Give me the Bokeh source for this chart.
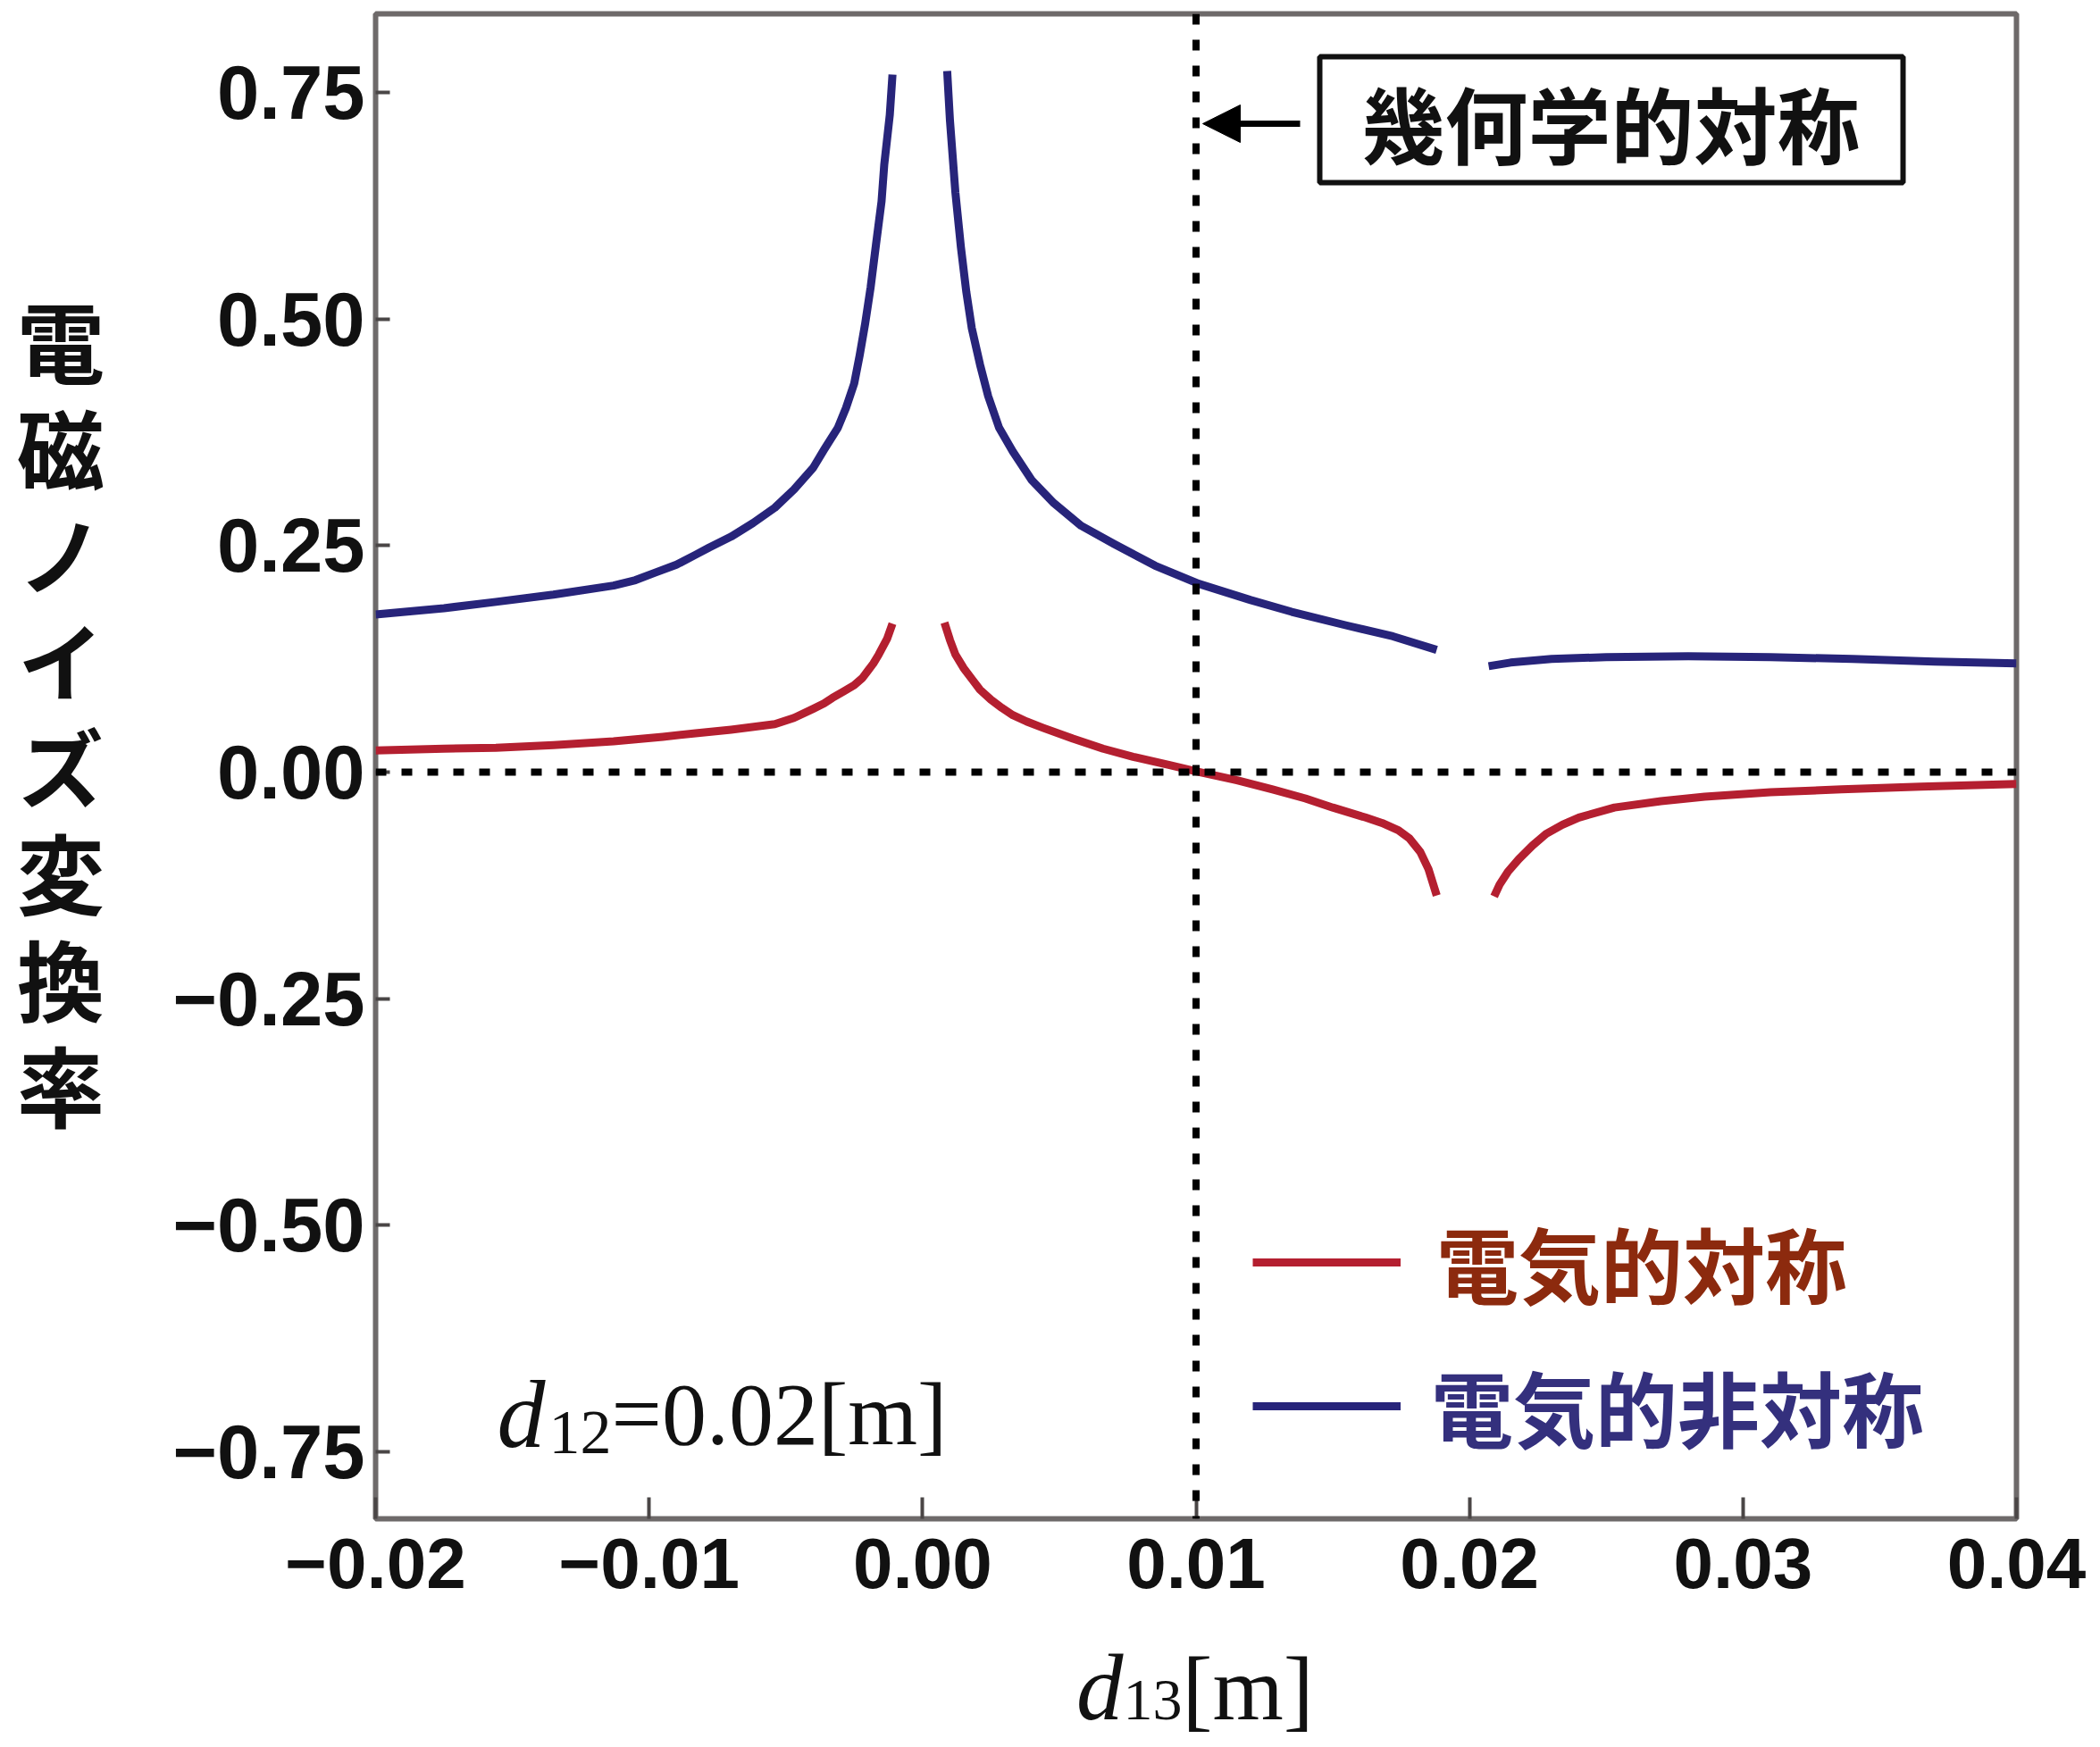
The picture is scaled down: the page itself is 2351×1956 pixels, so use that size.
from bokeh.plotting import figure
from bokeh.models import (Range1d, FixedTicker, Span, Label, Arrow, NormalHead,
                          BoxAnnotation, ColumnDataSource, Legend, LegendItem, Div)
from bokeh.layouts import row, column
from bokeh.embed import file_html
from bokeh.resources import INLINE

NAN = float("nan")

# ---------------- data ----------------
# 電気的非対称 (blue), three branches
asym_x1 = [-0.0200, -0.0175, -0.0156, -0.0135, -0.0113, -0.0105, -0.0098, -0.0090, -0.0083,
           -0.0078, -0.0070, -0.0062, -0.0054, -0.0047, -0.0040, -0.0036, -0.0031, -0.0028,
           -0.0025, -0.0023, -0.0021, -0.0019, -0.0017, -0.0015, -0.0014, -0.0012, -0.0011]
asym_y1 = [0.174, 0.181, 0.188, 0.196, 0.206, 0.212, 0.220, 0.229, 0.240,
           0.248, 0.260, 0.275, 0.292, 0.312, 0.336, 0.356, 0.380, 0.402,
           0.429, 0.460, 0.495, 0.535, 0.583, 0.630, 0.671, 0.725, 0.770]
asym_x2 = [0.0009, 0.0010, 0.0012, 0.0014, 0.0016, 0.0018, 0.0021, 0.0024, 0.0028, 0.0033,
           0.0040, 0.0048, 0.0058, 0.0070, 0.0085, 0.0101, 0.0120, 0.0135, 0.0155, 0.0172,
           0.0188]
asym_y2 = [0.774, 0.720, 0.640, 0.580, 0.530, 0.490, 0.450, 0.415, 0.380, 0.354,
           0.322, 0.297, 0.272, 0.252, 0.228, 0.208, 0.190, 0.177, 0.162, 0.150,
           0.135]
asym_x3 = [0.0207, 0.0215, 0.0230, 0.0250, 0.0280, 0.0310, 0.0340, 0.0370, 0.0400]
asym_y3 = [0.117, 0.121, 0.125, 0.127, 0.128, 0.127, 0.125, 0.122, 0.120]

# 電気的対称 (red), three branches
sym_x1 = [-0.0200, -0.0175, -0.0156, -0.0135, -0.0113, -0.0095, -0.0083, -0.0070,
          -0.0054, -0.0047, -0.0040, -0.0036, -0.0033, -0.0029, -0.0025, -0.0022, -0.0020,
          -0.0018, -0.0016, -0.0013, -0.0011]
sym_y1 = [0.024, 0.026, 0.027, 0.030, 0.034, 0.039, 0.043, 0.047,
          0.053, 0.060, 0.070, 0.076, 0.082, 0.089, 0.096, 0.104, 0.112,
          0.120, 0.130, 0.147, 0.164]
sym_x2 = [0.0008, 0.0010, 0.0012, 0.0015, 0.0018, 0.0021, 0.0025, 0.0029, 0.0033, 0.0038,
          0.0044, 0.0055, 0.0066, 0.0077, 0.0090, 0.0100, 0.0115, 0.0128, 0.0140, 0.0150,
          0.0162, 0.0168, 0.0174, 0.0178, 0.0182, 0.0185, 0.0188]
sym_y2 = [0.165, 0.146, 0.130, 0.115, 0.103, 0.091, 0.080, 0.071, 0.063, 0.056,
          0.049, 0.037, 0.026, 0.017, 0.008, 0.001, -0.009, -0.019, -0.029, -0.039,
          -0.050, -0.056, -0.064, -0.073, -0.088, -0.107, -0.136]
sym_x3 = [0.0209, 0.0211, 0.0214, 0.0218, 0.0223, 0.0228, 0.0234, 0.0240, 0.0253, 0.0270,
          0.0286, 0.0310, 0.0336, 0.0365, 0.0400]
sym_y3 = [-0.137, -0.124, -0.110, -0.096, -0.081, -0.068, -0.058, -0.050, -0.039, -0.032,
          -0.027, -0.022, -0.019, -0.016, -0.013]

x_ticks = [-0.02, -0.01, 0.00, 0.01, 0.02, 0.03, 0.04]
x_tick_labels = ["−0.02", "−0.01", "0.00", "0.01", "0.02", "0.03", "0.04"]
y_ticks = [-0.75, -0.50, -0.25, 0.00, 0.25, 0.50, 0.75]
y_tick_labels = ["−0.75", "−0.50", "−0.25", "0.00", "0.25", "0.50", "0.75"]

sym_label = "電気的対称"
asym_label = "電気的非対称"
geo_label = "幾何学的対称"
y_label = "電磁ノイズ変換率"
d12_parts = ["d", "12", "=0.02[m]"]
d13_parts = ["d", "13", "[m]"]

sym_line_x = 0.01   # geometric symmetry position
zero_line_y = 0.0

X_MIN, X_MAX = -0.02, 0.04
Y_MIN, Y_MAX = -0.824, 0.837


def join(*branches):
    xs, ys = [], []
    for i, (bx, by) in enumerate(branches):
        if i:
            xs.append(NAN)
            ys.append(NAN)
        xs += list(bx)
        ys += list(by)
    return xs, ys


# ---------------- layout (page pixel helpers for annotations) ----------------
FL, FR, FT, FB = 420, 2257, 15, 1700   # frame on page
YDIV_W = 130
TOTAL_W = 2343
FIG_H = 1830
XDIV_H = 118


def dx(px):
    return X_MIN + (px - FL) * (X_MAX - X_MIN) / (FR - FL)


def dy(py):
    return Y_MAX - (py - FT) * (Y_MAX - Y_MIN) / (FB - FT)


FIG_W = TOTAL_W - YDIV_W
p = figure(width=FIG_W, height=FIG_H, output_backend="svg", toolbar_location=None,
           x_range=Range1d(X_MIN, X_MAX), y_range=Range1d(Y_MIN, Y_MAX),
           min_border_left=FL - YDIV_W, min_border_right=TOTAL_W - FR,
           min_border_top=FT, min_border_bottom=FIG_H - FB)
p.grid.visible = False
p.background_fill_color = "white"
p.border_fill_color = "white"
p.outline_line_color = "#6e6a6a"
p.outline_line_width = 6

# axes
xa = p.xaxis[0]
xa.ticker = FixedTicker(ticks=x_ticks)
xa.major_label_overrides = {t: l for t, l in zip(x_ticks, x_tick_labels)}
xa.minor_tick_line_color = None
xa.axis_line_color = None
xa.major_tick_in = 24
xa.major_tick_out = 0
xa.major_tick_line_color = "#4a4646"
xa.major_tick_line_width = 4
xa.major_label_standoff = 22
xa.major_label_text_font = "Liberation Sans"
xa.major_label_text_font_style = "bold"
xa.major_label_text_font_size = "80px"
xa.major_label_text_color = "#111111"

ya = p.yaxis[0]
ya.ticker = FixedTicker(ticks=y_ticks)
ya.major_label_overrides = {t: l for t, l in zip(y_ticks, y_tick_labels)}
ya.minor_tick_line_color = None
ya.axis_line_color = None
ya.major_tick_in = 16
ya.major_tick_out = 0
ya.major_tick_line_color = "#4a4646"
ya.major_tick_line_width = 4
ya.major_label_standoff = 12
ya.major_label_text_font = "Liberation Sans"
ya.major_label_text_font_style = "bold"
ya.major_label_text_font_size = "85px"
ya.major_label_text_color = "#111111"

# reference dotted lines
p.add_layout(Span(location=zero_line_y, dimension="width", line_color="black",
                  line_width=8, line_dash="12 17"))
p.add_layout(Span(location=sym_line_x, dimension="height", line_color="black",
                  line_width=8, line_dash="12 17"))

# curves
ax, ay = join((asym_x1, asym_y1), (asym_x2, asym_y2), (asym_x3, asym_y3))
sx, sy = join((sym_x1, sym_y1), (sym_x2, sym_y2), (sym_x3, sym_y3))
r_sym = p.line(x="x", y="y", source=ColumnDataSource(dict(x=sx, y=sy)),
               line_color="#b41f30", line_width=9, line_join="round")
r_asym = p.line(x="x", y="y", source=ColumnDataSource(dict(x=ax, y=ay)),
                line_color="#27247a", line_width=9, line_join="round")

# legends (one per colour of label text)
CJK = "Noto Sans CJK JP"
for label, rend, color, cy, standoff in [(sym_label, r_sym, "#8c2a0e", 1414, 40),
                                           (asym_label, r_asym, "#34307d", 1575, 34)]:
    hrow = 130
    lg = Legend(items=[LegendItem(label=label, renderers=[rend])],
                location=(1402 - FL, FB - (cy + hrow / 2)),
                glyph_width=166, glyph_height=hrow, label_height=hrow,
                label_standoff=standoff, padding=0, margin=0, spacing=0,
                border_line_color=None, background_fill_alpha=0,
                label_text_font=CJK, label_text_font_style="bold",
                label_text_font_size="92px", label_text_color=color)
    p.add_layout(lg)

# geometric symmetry box + arrow
p.add_layout(BoxAnnotation(left=dx(1477), right=dx(2130), top=dy(63), bottom=dy(204),
                           fill_color="white", fill_alpha=1.0,
                           line_color="#111111", line_alpha=1.0, line_width=6))
p.add_layout(Label(x=dx(1803), y=dy(136), text=geo_label, text_align="center",
                   text_baseline="middle", text_font=CJK, text_font_style="bold",
                   text_font_size="93px", text_color="#111111"))
p.add_layout(Arrow(end=NormalHead(size=42, fill_color="black", line_color="black"),
                   x_start=dx(1455), y_start=dy(138), x_end=dx(1346), y_end=dy(138),
                   line_color="black", line_width=7))

SERIF = "Liberation Serif"
# d12 = 0.02 [m]  (inside the frame)
p.add_layout(Label(x=dx(556), y=dy(1583), text=d12_parts[0], text_font=SERIF,
                   text_font_style="italic", text_font_size="108px",
                   text_baseline="alphabetic", text_color="#111111"))
p.add_layout(Label(x=dx(614), y=dy(1603), text=d12_parts[1], text_font=SERIF,
                   text_font_size="70px", text_baseline="alphabetic", text_color="#111111"))
p.add_layout(Label(x=dx(684), y=dy(1583), text=d12_parts[2], text_font=SERIF,
                   text_font_size="100px", text_baseline="alphabetic", text_color="#111111"))

# y axis title: upright characters stacked vertically
ydiv = Div(width=YDIV_W, height=FIG_H, margin=0, text=(
    '<div style="box-sizing:content-box;padding-top:336px;padding-left:8px;'
    'height:1200px;width:120px;'
    'writing-mode:vertical-rl;text-orientation:upright;'
    "font-family:'Noto Sans CJK JP';font-weight:bold;font-size:98px;"
    'line-height:120px;letter-spacing:21px;color:#111111;">'
    + y_label + '</div>'))

# x axis title: d13[m]
xdiv = Div(width=TOTAL_W, height=XDIV_H, margin=0, text=(
    '<div style="padding-left:1205px;padding-top:7px;white-space:nowrap;'
    "font-family:'Liberation Serif';font-size:105px;line-height:105px;color:#111111;\">"
    '<i>' + d13_parts[0] + '</i>'
    '<span style="font-size:66px;">' + d13_parts[1] + '</span>'
    '<span style="font-size:102px;">' + d13_parts[2] + '</span></div>'))

layout = column(row(ydiv, p, spacing=0), xdiv, spacing=0)

open("out.html", "w").write(file_html(layout, INLINE))
